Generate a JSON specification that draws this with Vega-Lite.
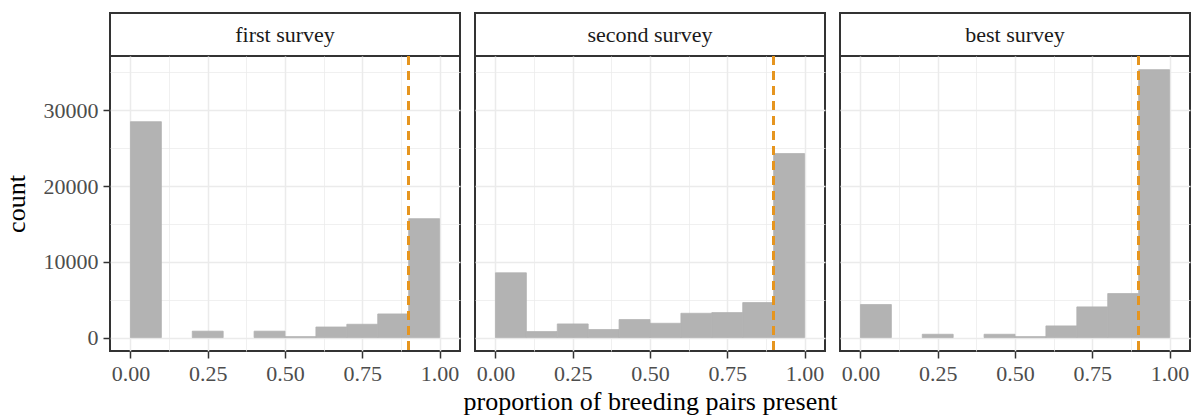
{
  "$schema": "https://vega.github.io/schema/vega-lite/v6.json",
  "padding": {"left": 2, "top": 12, "right": 8, "bottom": 4},
  "background": "white",
  "bounds": "flush",
  "columns": 3,
  "spacing": {"row": 0, "column": 15},
  "config": {
    "font": "Liberation Serif",
    "view": {"stroke": "#333333", "strokeWidth": 2},
    "axis": {
      "labelFont": "Liberation Serif",
      "titleFont": "Liberation Serif",
      "labelFontSize": 22,
      "labelColor": "#4D4D4D",
      "titleFontSize": 26,
      "titleFontWeight": "normal",
      "titleColor": "#000000",
      "gridColor": "#EBEBEB",
      "tickColor": "#333333",
      "labelFlush": false,
      "labelOverlap": false,
      "labelBound": false
    }
  },
  "datasets": {
    "hist": [
      {"survey": "first survey", "bin_start": 0.0, "bin_end": 0.1, "count": 28500},
      {"survey": "first survey", "bin_start": 0.1, "bin_end": 0.2, "count": 0},
      {"survey": "first survey", "bin_start": 0.2, "bin_end": 0.3, "count": 850},
      {"survey": "first survey", "bin_start": 0.3, "bin_end": 0.4, "count": 0},
      {"survey": "first survey", "bin_start": 0.4, "bin_end": 0.5, "count": 850},
      {"survey": "first survey", "bin_start": 0.5, "bin_end": 0.6, "count": 130},
      {"survey": "first survey", "bin_start": 0.6, "bin_end": 0.7, "count": 1400},
      {"survey": "first survey", "bin_start": 0.7, "bin_end": 0.8, "count": 1760},
      {"survey": "first survey", "bin_start": 0.8, "bin_end": 0.9, "count": 3120},
      {"survey": "first survey", "bin_start": 0.9, "bin_end": 1.0, "count": 15700},
      {"survey": "second survey", "bin_start": 0.0, "bin_end": 0.1, "count": 8550},
      {"survey": "second survey", "bin_start": 0.1, "bin_end": 0.2, "count": 790},
      {"survey": "second survey", "bin_start": 0.2, "bin_end": 0.3, "count": 1800},
      {"survey": "second survey", "bin_start": 0.3, "bin_end": 0.4, "count": 1060},
      {"survey": "second survey", "bin_start": 0.4, "bin_end": 0.5, "count": 2380},
      {"survey": "second survey", "bin_start": 0.5, "bin_end": 0.6, "count": 1890},
      {"survey": "second survey", "bin_start": 0.6, "bin_end": 0.7, "count": 3210},
      {"survey": "second survey", "bin_start": 0.7, "bin_end": 0.8, "count": 3300},
      {"survey": "second survey", "bin_start": 0.8, "bin_end": 0.9, "count": 4620},
      {"survey": "second survey", "bin_start": 0.9, "bin_end": 1.0, "count": 24290},
      {"survey": "best survey", "bin_start": 0.0, "bin_end": 0.1, "count": 4360},
      {"survey": "best survey", "bin_start": 0.1, "bin_end": 0.2, "count": 0},
      {"survey": "best survey", "bin_start": 0.2, "bin_end": 0.3, "count": 440},
      {"survey": "best survey", "bin_start": 0.3, "bin_end": 0.4, "count": 0},
      {"survey": "best survey", "bin_start": 0.4, "bin_end": 0.5, "count": 440},
      {"survey": "best survey", "bin_start": 0.5, "bin_end": 0.6, "count": 130},
      {"survey": "best survey", "bin_start": 0.6, "bin_end": 0.7, "count": 1540},
      {"survey": "best survey", "bin_start": 0.7, "bin_end": 0.8, "count": 4050},
      {"survey": "best survey", "bin_start": 0.8, "bin_end": 0.9, "count": 5810},
      {"survey": "best survey", "bin_start": 0.9, "bin_end": 1.0, "count": 35370}
    ]
  },
  "concat": [
    {
      "data": {"name": "hist"},
      "transform": [
        {"filter": "datum.survey === 'first survey'"},
        {"aggregate": [{"op": "count", "as": "n"}], "groupby": ["survey"]}
      ],
      "width": 350, "height": 43,
      "view": {"style": "cell", "stroke": "#333333", "strokeWidth": 2, "fill": "white"},
      "mark": {"type": "text", "font": "Liberation Serif", "fontSize": 22, "color": "#1A1A1A"},
      "encoding": {"text": {"field": "survey"}}
    },
    {
      "data": {"name": "hist"},
      "transform": [
        {"filter": "datum.survey === 'second survey'"},
        {"aggregate": [{"op": "count", "as": "n"}], "groupby": ["survey"]}
      ],
      "width": 350, "height": 43,
      "view": {"style": "cell", "stroke": "#333333", "strokeWidth": 2, "fill": "white"},
      "mark": {"type": "text", "font": "Liberation Serif", "fontSize": 22, "color": "#1A1A1A"},
      "encoding": {"text": {"field": "survey"}}
    },
    {
      "data": {"name": "hist"},
      "transform": [
        {"filter": "datum.survey === 'best survey'"},
        {"aggregate": [{"op": "count", "as": "n"}], "groupby": ["survey"]}
      ],
      "width": 350, "height": 43,
      "view": {"style": "cell", "stroke": "#333333", "strokeWidth": 2, "fill": "white"},
      "mark": {"type": "text", "font": "Liberation Serif", "fontSize": 22, "color": "#1A1A1A"},
      "encoding": {"text": {"field": "survey"}}
    },
    {
      "data": {"name": "hist"},
      "transform": [{"filter": "datum.survey === 'first survey'"}],
      "width": 350, "height": 295,
      "resolve": {"axis": {"x": "independent", "y": "independent"}},
      "layer": [
        {
          "mark": {"type": "bar", "color": "#B3B3B3", "stroke": "#B3B3B3", "strokeWidth": 0.8, "orient": "vertical"},
          "encoding": {
            "x": {"field": "bin_start", "type": "quantitative", "scale": {"domain": [-0.05, 1.05], "nice": false, "zero": false},
              "axis": {"values": [0, 0.25, 0.5, 0.75, 1], "format": ".2f", "grid": true, "gridWidth": 1.5, "domain": false, "tickSize": 7, "tickWidth": 1.5, "labelPadding": 5, "title": null}},
            "x2": {"field": "bin_end"},
            "y": {"field": "count", "type": "quantitative", "scale": {"domain": [-1770, 37170], "nice": false, "zero": false},
              "axis": {"values": [0, 10000, 20000, 30000], "format": "d", "grid": true, "gridWidth": 1.5, "domain": false, "tickSize": 7, "tickWidth": 1.5, "labelPadding": 5, "title": "count", "titlePadding": 14}},
            "y2": {"datum": 0},
            "strokeOpacity": {"condition": {"test": "datum.count > 0", "value": 1}, "value": 0}
          }
        },
        {
          "mark": {"type": "bar", "opacity": 0, "orient": "vertical"},
          "encoding": {
            "x": {"field": "bin_start", "type": "quantitative",
              "axis": {"orient": "top", "values": [0.125, 0.375, 0.625, 0.875], "grid": true, "gridWidth": 0.75, "labels": false, "ticks": false, "domain": false, "title": null, "minExtent": 0, "maxExtent": 0, "offset": 0}},
            "x2": {"field": "bin_end"},
            "y": {"field": "count", "type": "quantitative",
              "axis": {"orient": "right", "values": [5000, 15000, 25000, 35000], "grid": true, "gridWidth": 0.75, "labels": false, "ticks": false, "domain": false, "title": null, "minExtent": 0, "maxExtent": 0, "offset": 0}},
            "y2": {"datum": 0}
          }
        },
        {
          "mark": {"type": "rule", "color": "#E69520", "strokeWidth": 2.5, "strokeDash": [9, 6]},
          "encoding": {"x": {"datum": 0.9, "type": "quantitative", "axis": null}}
        }
      ]
    },
    {
      "data": {"name": "hist"},
      "transform": [{"filter": "datum.survey === 'second survey'"}],
      "width": 350, "height": 295,
      "resolve": {"axis": {"x": "independent", "y": "independent"}},
      "layer": [
        {
          "mark": {"type": "bar", "color": "#B3B3B3", "stroke": "#B3B3B3", "strokeWidth": 0.8, "orient": "vertical"},
          "encoding": {
            "x": {"field": "bin_start", "type": "quantitative", "scale": {"domain": [-0.05, 1.05], "nice": false, "zero": false},
              "axis": {"values": [0, 0.25, 0.5, 0.75, 1], "format": ".2f", "grid": true, "gridWidth": 1.5, "domain": false, "tickSize": 7, "tickWidth": 1.5, "labelPadding": 5, "title": "proportion of breeding pairs present", "titlePadding": 4}},
            "x2": {"field": "bin_end"},
            "y": {"field": "count", "type": "quantitative", "scale": {"domain": [-1770, 37170], "nice": false, "zero": false},
              "axis": {"values": [0, 10000, 20000, 30000], "grid": true, "gridWidth": 1.5, "domain": false, "labels": false, "ticks": false, "title": null, "minExtent": 0, "maxExtent": 0, "offset": 0}},
            "y2": {"datum": 0},
            "strokeOpacity": {"condition": {"test": "datum.count > 0", "value": 1}, "value": 0}
          }
        },
        {
          "mark": {"type": "bar", "opacity": 0, "orient": "vertical"},
          "encoding": {
            "x": {"field": "bin_start", "type": "quantitative",
              "axis": {"orient": "top", "values": [0.125, 0.375, 0.625, 0.875], "grid": true, "gridWidth": 0.75, "labels": false, "ticks": false, "domain": false, "title": null, "minExtent": 0, "maxExtent": 0, "offset": 0}},
            "x2": {"field": "bin_end"},
            "y": {"field": "count", "type": "quantitative",
              "axis": {"orient": "right", "values": [5000, 15000, 25000, 35000], "grid": true, "gridWidth": 0.75, "labels": false, "ticks": false, "domain": false, "title": null, "minExtent": 0, "maxExtent": 0, "offset": 0}},
            "y2": {"datum": 0}
          }
        },
        {
          "mark": {"type": "rule", "color": "#E69520", "strokeWidth": 2.5, "strokeDash": [9, 6]},
          "encoding": {"x": {"datum": 0.9, "type": "quantitative", "axis": null}}
        }
      ]
    },
    {
      "data": {"name": "hist"},
      "transform": [{"filter": "datum.survey === 'best survey'"}],
      "width": 350, "height": 295,
      "resolve": {"axis": {"x": "independent", "y": "independent"}},
      "layer": [
        {
          "mark": {"type": "bar", "color": "#B3B3B3", "stroke": "#B3B3B3", "strokeWidth": 0.8, "orient": "vertical"},
          "encoding": {
            "x": {"field": "bin_start", "type": "quantitative", "scale": {"domain": [-0.05, 1.05], "nice": false, "zero": false},
              "axis": {"values": [0, 0.25, 0.5, 0.75, 1], "format": ".2f", "grid": true, "gridWidth": 1.5, "domain": false, "tickSize": 7, "tickWidth": 1.5, "labelPadding": 5, "title": null}},
            "x2": {"field": "bin_end"},
            "y": {"field": "count", "type": "quantitative", "scale": {"domain": [-1770, 37170], "nice": false, "zero": false},
              "axis": {"values": [0, 10000, 20000, 30000], "grid": true, "gridWidth": 1.5, "domain": false, "labels": false, "ticks": false, "title": null, "minExtent": 0, "maxExtent": 0, "offset": 0}},
            "y2": {"datum": 0},
            "strokeOpacity": {"condition": {"test": "datum.count > 0", "value": 1}, "value": 0}
          }
        },
        {
          "mark": {"type": "bar", "opacity": 0, "orient": "vertical"},
          "encoding": {
            "x": {"field": "bin_start", "type": "quantitative",
              "axis": {"orient": "top", "values": [0.125, 0.375, 0.625, 0.875], "grid": true, "gridWidth": 0.75, "labels": false, "ticks": false, "domain": false, "title": null, "minExtent": 0, "maxExtent": 0, "offset": 0}},
            "x2": {"field": "bin_end"},
            "y": {"field": "count", "type": "quantitative",
              "axis": {"orient": "right", "values": [5000, 15000, 25000, 35000], "grid": true, "gridWidth": 0.75, "labels": false, "ticks": false, "domain": false, "title": null, "minExtent": 0, "maxExtent": 0, "offset": 0}},
            "y2": {"datum": 0}
          }
        },
        {
          "mark": {"type": "rule", "color": "#E69520", "strokeWidth": 2.5, "strokeDash": [9, 6]},
          "encoding": {"x": {"datum": 0.9, "type": "quantitative", "axis": null}}
        }
      ]
    }
  ]
}
